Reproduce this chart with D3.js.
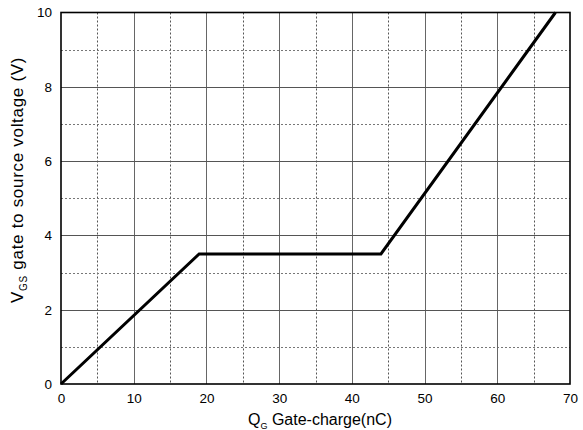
<!DOCTYPE html>
<html><head><meta charset="utf-8">
<script src="https://cdn.jsdelivr.net/npm/d3@7"></script>
<style>body{margin:0;background:#fff}svg{display:block}text{font-family:Arial,"Liberation Sans",sans-serif}</style>
</head><body><svg id="c" width="583" height="430"></svg>
<script>
const qValues = [0, 19, 44, 68];
const vValues = [0, 3.5, 3.5, 10];
const xTicks = [0, 10, 20, 30, 40, 50, 60, 70];
const yTicks = [0, 2, 4, 6, 8, 10];
const xMinor = [5, 15, 25, 35, 45, 55, 65];
const yMinor = [1, 3, 5, 7, 9];

const svg = d3.select("#c");
const L = 61, R = 570, T = 12.5, B = 384;
const x = d3.scaleLinear().domain([0, 70]).range([L, R]);
const y = d3.scaleLinear().domain([0, 10]).range([B, T]);

const g = svg.append("g");
// minor grid
g.selectAll(".vx").data(xMinor).join("line")
  .attr("x1", d => Math.round(x(d)) + 0.5).attr("x2", d => Math.round(x(d)) + 0.5)
  .attr("y1", T).attr("y2", B).attr("stroke", "#555").attr("stroke-dasharray", "2,2");
g.selectAll(".hy").data(yMinor).join("line")
  .attr("y1", d => Math.round(y(d)) + 0.5).attr("y2", d => Math.round(y(d)) + 0.5)
  .attr("x1", L).attr("x2", R).attr("stroke", "#777").attr("stroke-dasharray", "2,2");
// major grid
g.selectAll(".mx").data(xTicks.slice(1, -1)).join("line")
  .attr("x1", d => Math.round(x(d)) + 0.5).attr("x2", d => Math.round(x(d)) + 0.5)
  .attr("y1", T).attr("y2", B).attr("stroke", "#666");
g.selectAll(".my").data(yTicks.slice(1, -1)).join("line")
  .attr("y1", d => Math.round(y(d)) + 0.5).attr("y2", d => Math.round(y(d)) + 0.5)
  .attr("x1", L).attr("x2", R).attr("stroke", "#555");

// frame
svg.append("rect").attr("x", L).attr("y", T).attr("width", R - L).attr("height", B - T)
  .attr("fill", "none").attr("stroke", "#000").attr("stroke-width", 1.6);

// axes (labels only)
const xAxis = d3.axisBottom(x).tickValues(xTicks).tickSize(0).tickPadding(9);
const xa = svg.append("g").attr("transform", `translate(0,${B})`).call(xAxis);
xa.select(".domain").remove();
xa.selectAll("text").attr("font-size", 13.5).attr("fill", "#000").style("font-family", "Arial, 'Liberation Sans', sans-serif");
const yAxis = d3.axisLeft(y).tickValues(yTicks).tickSize(0).tickPadding(9);
const ya = svg.append("g").attr("transform", `translate(${L},0)`).call(yAxis);
ya.select(".domain").remove();
ya.selectAll("text").attr("font-size", 13.5).attr("fill", "#000").style("font-family", "Arial, 'Liberation Sans', sans-serif");

// curve
const pts = qValues.map((q, i) => [q, vValues[i]]);
svg.append("path").datum(pts)
  .attr("d", d3.line().x(d => x(d[0])).y(d => y(d[1])))
  .attr("fill", "none").attr("stroke", "#000").attr("stroke-width", 3).attr("stroke-linejoin", "miter");

// x label
const xl = svg.append("text").attr("x", 248).attr("y", 425).attr("font-size", 16).attr("fill", "#000");
xl.append("tspan").text("Q");
xl.append("tspan").attr("font-size", 9).attr("dy", 4).text("G");
xl.append("tspan").attr("dy", -4).text(" Gate-charge(nC)");

// y label
const yl = svg.append("text").attr("transform", "translate(23,303) rotate(-90)")
  .attr("font-size", 17).attr("letter-spacing", 0.7).attr("fill", "#000");
yl.append("tspan").text("V");
yl.append("tspan").attr("font-size", 10).attr("dy", 4).text("GS");
yl.append("tspan").attr("dy", -4).text(" gate to source voltage (V)");
</script></body></html>
